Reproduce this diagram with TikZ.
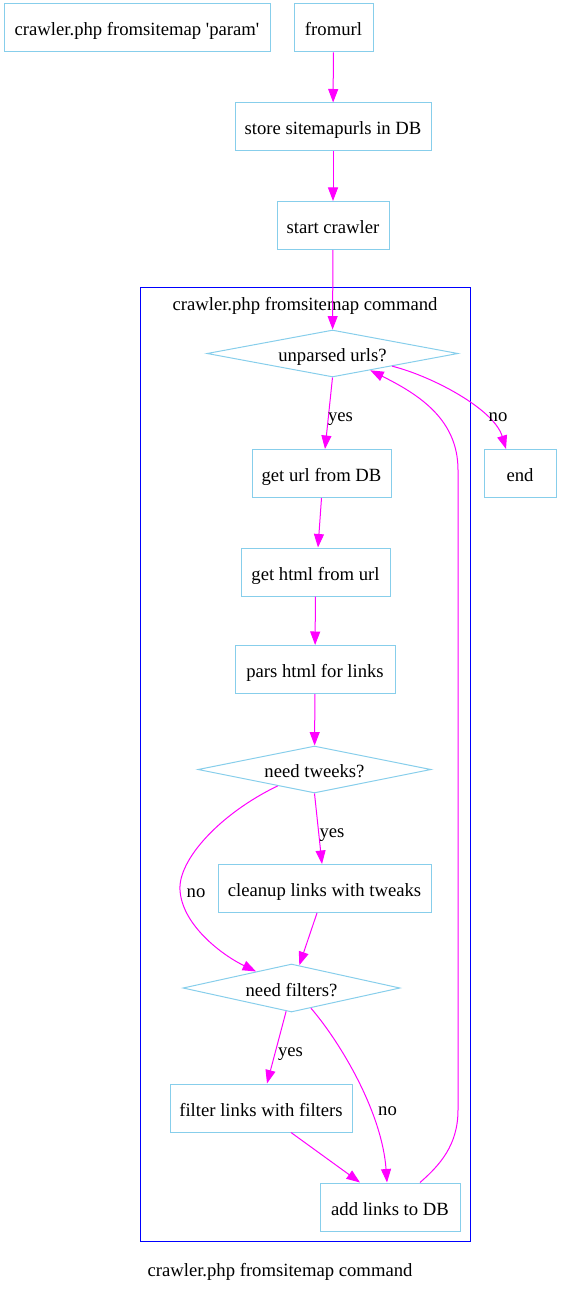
\documentclass[tikz,border=0pt]{standalone}
\usepackage{fontspec}
\setmainfont{Liberation Serif}
\usetikzlibrary{shapes.geometric,arrows.meta}
\definecolor{nodeline}{HTML}{87CEEB}
\definecolor{edgecol}{HTML}{FF00FF}
\definecolor{clustcol}{HTML}{0000FF}
\begin{document}
\begin{tikzpicture}[x=1pt,y=-1pt,
  font=\fontsize{18.67}{22}\selectfont,
  box/.style={draw=nodeline,line width=1pt,rectangle,inner sep=0pt,minimum height=48pt,text height=16pt,text depth=0pt},
  dia/.style={draw=nodeline,line width=1pt,diamond,aspect=5,inner sep=0pt,minimum height=47pt,text height=16pt,text depth=0pt},
  edge/.style={draw=edgecol,line width=1pt,-{Triangle[length=13.5pt,width=10pt]}},
  lbl/.style={inner sep=0pt,text=black,anchor=base}]
\useasboundingbox (0,0) rectangle (561,1292);
% cluster
\node[draw=clustcol,line width=1pt,rectangle,inner sep=0pt,minimum width=330pt,minimum height=954pt] (cluster) at (305,764) {};
\node[lbl] (clusterlabel) at (305,310.5) {crawler.php fromsitemap command};
% nodes
\node[box,minimum width=266pt] (param) at (137,28) {crawler.php fromsitemap \textquotesingle param\textquotesingle};
\node[box,minimum width=79pt] (fromurl) at (333.5,28) {fromurl};
\node[box,minimum width=196pt] (store) at (333,127) {store sitemapurls in DB};
\node[box,minimum width=112pt] (start) at (333,225.5) {start crawler};
\node[dia,minimum width=251pt] (unparsed) at (332.5,353.5) {unparsed urls?};
\node[box,minimum width=72pt] (end) at (520,473.5) {end};
\node[box,minimum width=139pt] (getdb) at (321.5,473.5) {get url from DB};
\node[box,minimum width=149pt] (gethtml) at (315.5,572) {get html from url};
\node[box,minimum width=160pt] (pars) at (315,669.5) {pars html for links};
\node[dia,minimum width=233pt] (tweeks) at (314.5,769.5) {need tweeks?};
\node[box,minimum width=213pt] (cleanup) at (324.5,888.5) {cleanup links with tweaks};
\node[dia,minimum width=217pt,minimum height=48pt] (filters) at (291.5,988) {need filters?};
\node[box,minimum width=182pt] (filter) at (261,1108) {filter links with filters};
\node[box,minimum width=140pt] (add) at (390,1207) {add links to DB};
\node[lbl] (caption) at (280,1276.5) {crawler.php fromsitemap command};
% edges
\draw[edge] (fromurl) -- (store);
\draw[edge] (store) -- (start);
\draw[edge] (start) -- (unparsed);
\draw[edge] (unparsed.south) -- ([xshift=3.5pt]getdb.north)
  node[lbl,at={(340.5,421.5)}] {yes};
\draw[edge] (unparsed.-12) .. controls +(40,10) and +(-12,-40) .. ([xshift=-14pt]end.north)
  node[lbl,at={(498,421.5)}] {no};
\draw[edge] (getdb.south) -- ([xshift=2.5pt]gethtml.north);
\draw[edge] (gethtml) -- (pars);
\draw[edge] (pars) -- (tweeks);
\draw[edge] (tweeks.south) -- ([xshift=-2.5pt]cleanup.north)
  node[lbl,at={(332,837)}] {yes};
\draw[edge] (tweeks.-156) .. controls +(-58,28) and (178,860) .. (180,890)
  .. controls (182,925) and (222,955) .. (filters.155)
  node[lbl,at={(196,897.5)}] {no};
\draw[edge] ([xshift=-7.5pt]cleanup.south) -- (filters.71);
\draw[edge] (filters.-103) -- ([xshift=6pt]filter.north)
  node[lbl,at={(290.5,1056)}] {yes};
\draw[edge] (filters.-46) .. controls +(30,35) and +(-5,-70) .. ([xshift=-3pt]add.north)
  node[lbl,at={(387.5,1115)}] {no};
\draw[edge] ([xshift=30pt]filter.south) -- ([xshift=-30pt]add.north);
\draw[edge] ([xshift=30pt]add.north) .. controls (440,1165) and (458,1145) .. (458,1110)
  -- (458,470) .. controls (458,420) and (420,395) .. (unparsed.-24);
\end{tikzpicture}
\end{document}
